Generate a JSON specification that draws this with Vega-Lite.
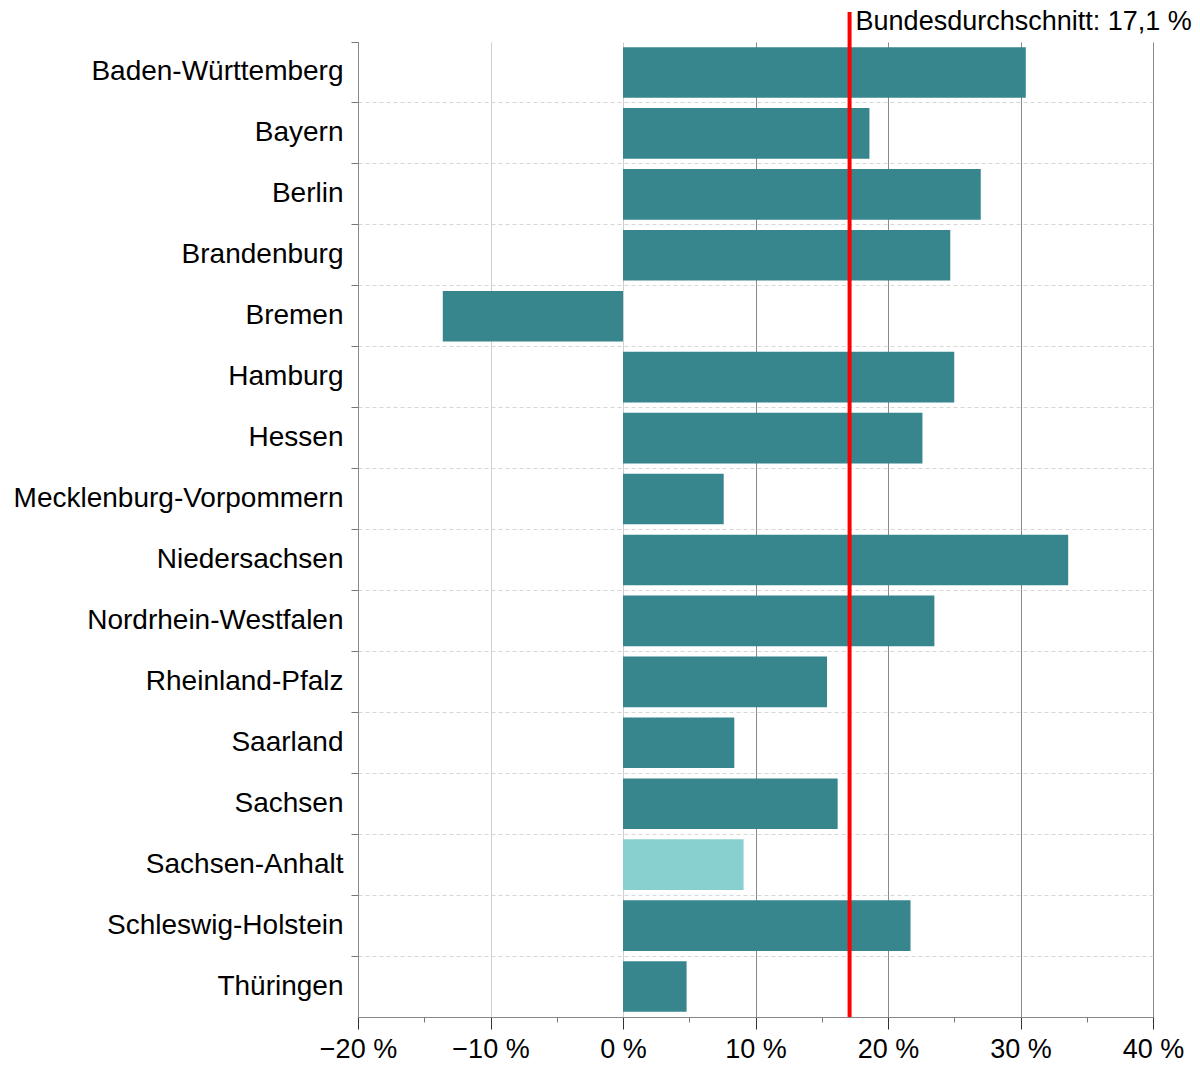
{
  "$schema": "https://vega.github.io/schema/vega-lite/v6.json",
  "width": 795,
  "height": 975,
  "autosize": {"type": "none"},
  "padding": {"left": 358, "top": 42, "right": 47, "bottom": 51},
  "config": {"font": "Liberation Sans", "view": {"stroke": null}},
  "resolve": {"axis": {"x": "independent"}},
  "layer": [
    {
      "data": {
        "values": [
          {"land": "Baden-Württemberg", "wert": 30.4, "hervorhebung": "nein"},
          {"land": "Bayern", "wert": 18.6, "hervorhebung": "nein"},
          {"land": "Berlin", "wert": 27.0, "hervorhebung": "nein"},
          {"land": "Brandenburg", "wert": 24.7, "hervorhebung": "nein"},
          {"land": "Bremen", "wert": -13.6, "hervorhebung": "nein"},
          {"land": "Hamburg", "wert": 25.0, "hervorhebung": "nein"},
          {"land": "Hessen", "wert": 22.6, "hervorhebung": "nein"},
          {"land": "Mecklenburg-Vorpommern", "wert": 7.6, "hervorhebung": "nein"},
          {"land": "Niedersachsen", "wert": 33.6, "hervorhebung": "nein"},
          {"land": "Nordrhein-Westfalen", "wert": 23.5, "hervorhebung": "nein"},
          {"land": "Rheinland-Pfalz", "wert": 15.4, "hervorhebung": "nein"},
          {"land": "Saarland", "wert": 8.4, "hervorhebung": "nein"},
          {"land": "Sachsen", "wert": 16.2, "hervorhebung": "nein"},
          {"land": "Sachsen-Anhalt", "wert": 9.1, "hervorhebung": "ja"},
          {"land": "Schleswig-Holstein", "wert": 21.7, "hervorhebung": "nein"},
          {"land": "Thüringen", "wert": 4.8, "hervorhebung": "nein"}
        ]
      },
      "mark": {"type": "bar", "height": {"band": 0.83}},
      "encoding": {
        "y": {
          "field": "land",
          "type": "nominal",
          "sort": null,
          "scale": {"paddingInner": 0, "paddingOuter": 0},
          "axis": {
            "title": null,
            "bandPosition": 0,
            "labelFontSize": 28,
            "labelColor": "#000000",
            "labelPadding": 8,
            "labelLimit": 0,
            "tickSize": 7,
            "tickColor": "#777777",
            "domainColor": "#888888",
            "grid": true,
            "gridDash": [4, 3],
            "gridColor": "#d6d6d6",
            "gridOpacity": {"condition": {"test": "datum.value === 'Baden-Württemberg'", "value": 0}, "value": 1}
          }
        },
        "x": {
          "field": "wert",
          "type": "quantitative",
          "scale": {"domain": [-20, 40], "nice": false, "zero": false},
          "axis": {
            "orient": "bottom",
            "title": null,
            "values": [-20, -10, 0, 10, 20, 30, 40],
            "labelExpr": "format(datum.value, 'd') + ' %'",
            "labelFontSize": 27,
            "labelColor": "#000000",
            "labelPadding": 7,
            "labelFlush": false,
            "labelOverlap": false,
            "tickSize": 12,
            "tickColor": "#333333",
            "domainColor": "#888888",
            "grid": true,
            "gridColor": {"condition": {"test": "datum.value < 10", "value": "#cfcfcf"}, "value": "#8a8a8a"}
          }
        },
        "color": {
          "field": "hervorhebung",
          "type": "nominal",
          "scale": {"domain": ["nein", "ja"], "range": ["#37868E", "#88CFCF"]},
          "legend": null
        }
      }
    },
    {
      "data": {"values": [{"label": "Bundesdurchschnitt: 17,1 %", "wert": 17.1}]},
      "mark": {"type": "rule", "color": "#ff0000", "strokeWidth": 4, "y": -30, "y2": 975},
      "encoding": {
        "x": {
          "field": "wert",
          "type": "quantitative",
          "axis": {
            "orient": "bottom",
            "title": null,
            "values": [-15, -5, 5, 15, 25, 35],
            "labels": false,
            "domain": false,
            "grid": false,
            "tickSize": 5,
            "tickColor": "#777777"
          }
        }
      }
    },
    {
      "data": {"values": [{"label": "Bundesdurchschnitt: 17,1 %", "wert": 17.1}]},
      "mark": {"type": "text", "align": "left", "baseline": "middle", "dx": 6, "y": -20, "fontSize": 27, "color": "#000000"},
      "encoding": {
        "x": {"field": "wert", "type": "quantitative", "axis": null},
        "text": {"field": "label"}
      }
    }
  ]
}
